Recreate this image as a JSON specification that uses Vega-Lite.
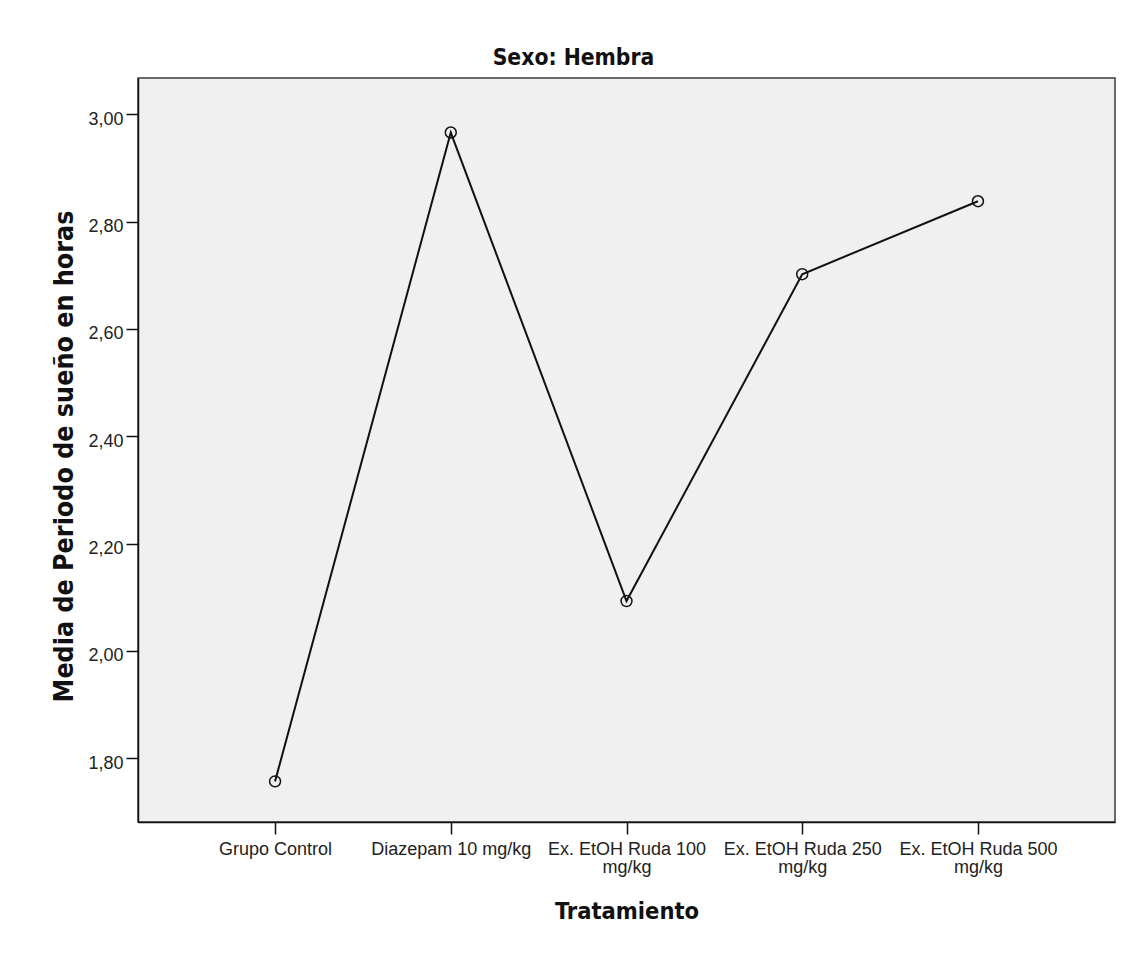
{
  "$schema": "https://vega.github.io/schema/vega-lite/v6.json",
  "autosize": {"type": "none"},
  "padding": {"left": 138, "top": 78, "right": 17, "bottom": 133},
  "width": 977,
  "height": 744,
  "background": "#ffffff",
  "title": {
    "text": "Sexo: Hembra",
    "font": "DejaVu Sans Condensed, DejaVu Sans",
    "fontSize": 22.7,
    "fontWeight": "bold",
    "color": "#111111",
    "anchor": "middle",
    "frame": "group",
    "dx": -53,
    "dy": 21,
    "baseline": "alphabetic",
    "offset": 11
  },
  "config": {
    "view": {"fill": "#f0f0f0", "stroke": "#3c3c3c", "strokeWidth": 1.5}
  },
  "data": {
    "values": [
      {"Tratamiento": "Grupo Control", "Media": 1.757},
      {"Tratamiento": "Diazepam 10 mg/kg", "Media": 2.966},
      {"Tratamiento": "Ex. EtOH Ruda 100 mg/kg", "Media": 2.093},
      {"Tratamiento": "Ex. EtOH Ruda 250 mg/kg", "Media": 2.702},
      {"Tratamiento": "Ex. EtOH Ruda 500 mg/kg", "Media": 2.838}
    ]
  },
  "encoding": {
    "x": {
      "field": "Tratamiento",
      "type": "nominal",
      "sort": null,
      "scale": {"type": "point", "padding": 0.78},
      "axis": {
        "title": "Tratamiento",
        "titleFont": "DejaVu Sans Condensed, DejaVu Sans",
        "titleFontSize": 23.5,
        "titleFontWeight": "bold",
        "titleColor": "#111111",
        "titleBaseline": "alphabetic",
        "titleY": 96,
        "labelAngle": 0,
        "labelFont": "Liberation Sans",
        "labelFontSize": 18,
        "labelColor": "#222222",
        "labelLineHeight": 18.5,
        "labelPadding": 6,
        "labelOverlap": false,
        "labelFlush": false,
        "labelBound": false,
        "labelLimit": 400,
        "labelExpr": "indexof(datum.label, 'Ruda') >= 0 ? [slice(datum.label, 0, 17), 'mg/kg'] : datum.label",
        "tickSize": 12,
        "tickColor": "#111111",
        "tickWidth": 1.5,
        "domainColor": "#111111",
        "domainWidth": 1.5,
        "grid": false
      }
    },
    "y": {
      "field": "Media",
      "type": "quantitative",
      "scale": {"domain": [1.6813, 3.0676], "nice": false, "zero": false},
      "axis": {
        "title": "Media de Periodo de sueño en horas",
        "titleFont": "DejaVu Sans Condensed, DejaVu Sans",
        "titleFontSize": 26.6,
        "titleFontWeight": "bold",
        "titleColor": "#111111",
        "titleAngle": -90,
        "titleAlign": "center",
        "titleBaseline": "alphabetic",
        "titleX": -66,
        "titleY": 378,
        "values": [1.8, 2.0, 2.2, 2.4, 2.6, 2.8, 3.0],
        "labelExpr": "replace(format(datum.value, '.2f'), '.', ',')",
        "labelFont": "Liberation Sans",
        "labelFontSize": 18,
        "labelColor": "#222222",
        "labelPadding": 3,
        "labelOffset": 5,
        "tickSize": 12,
        "tickColor": "#111111",
        "tickWidth": 1.5,
        "domainColor": "#111111",
        "domainWidth": 1.5,
        "grid": false
      }
    }
  },
  "layer": [
    {"mark": {"type": "line", "color": "#111111", "strokeWidth": 2}},
    {"mark": {"type": "point", "shape": "circle", "filled": false, "color": "#111111", "strokeWidth": 1.5, "size": 120, "opacity": 1}}
  ]
}
